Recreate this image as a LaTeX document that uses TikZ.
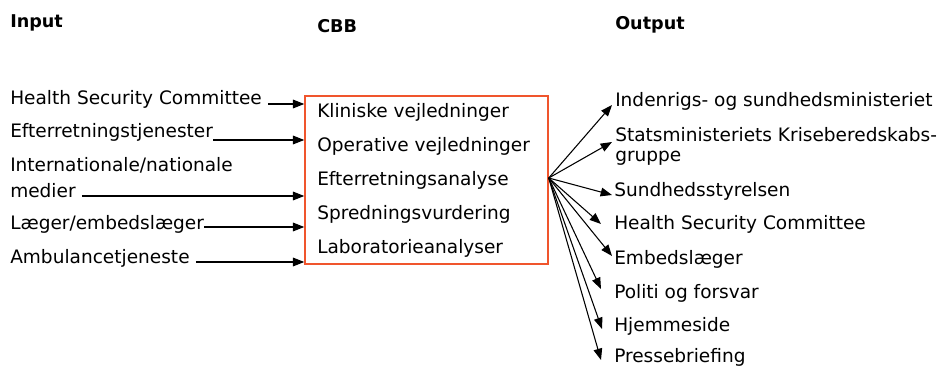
\documentclass[tikz,border=0pt]{standalone}
\usepackage{fontspec}
\setmainfont{DejaVu Sans}
\usetikzlibrary{arrows.meta}
\definecolor{boxred}{RGB}{240,85,45}
\begin{document}
\begin{tikzpicture}[x=0.75pt,y=-0.75pt,
  txt/.style={anchor=base west,inner sep=0pt,font=\fontsize{13.9}{16}\selectfont},
  hdr/.style={anchor=base west,inner sep=0pt,font=\bfseries\fontsize{13.2}{16}\selectfont},
  arr/.style={line width=0.8pt,-{Triangle[length=8.5pt,width=6.5pt]}},
  cbbbox/.style={draw=boxred,line width=1.1pt,minimum width=182.25pt,minimum height=126pt,inner sep=0pt}]
\useasboundingbox (0,0) rectangle (943,367);
% headers
\node[hdr] (hin) at (10,28) {Input};
\node[hdr] (hcbb) at (317,33) {CBB};
\node[hdr] (hout) at (615,29.5) {Output};
% box
\node[cbbbox] (box) at (426.5,180) {};
\node[txt] (b1) at (317,118) {Kliniske vejledninger};
\node[txt] (b2) at (317,152) {Operative vejledninger};
\node[txt] (b3) at (317,186) {Efterretningsanalyse};
\node[txt] (b4) at (317,219.5) {Spredningsvurdering};
\node[txt] (b5) at (317,253) {Laboratorieanalyser};
% inputs
\node[txt] (in1) at (10,105) {Health Security Committee};
\node[txt] (in2) at (10,138) {Efterretningstjenester};
\node[txt] (in3a) at (10,172) {Internationale/nationale};
\node[txt] (in3) at (10,198) {medier};
\node[txt] (in4) at (10,230) {Læger/embedslæger};
\node[txt] (in5) at (10,263) {Ambulancetjeneste};
\draw[arr] ([xshift=4.5pt,yshift=0.75pt]in1.base east) coordinate (s1) -- (s1 -| box.west);
\draw[arr] ([yshift=-1.5pt]in2.base east) coordinate (s2) -- (s2 -| box.west);
\draw[arr] ([xshift=4.5pt,yshift=1.5pt]in3.base east) coordinate (s3) -- (s3 -| box.west);
\draw[arr] ([yshift=2.25pt]in4.base east) coordinate (s4) -- (s4 -| box.west);
\draw[arr] ([xshift=4.5pt,yshift=0.75pt]in5.base east) coordinate (s5) -- (s5 -| box.west);
% outputs
\node[txt] (o1) at (615,107) {Indenrigs- og sundhedsministeriet};
\node[txt] (o2) at (615,142) {Statsministeriets Kriseberedskabs-};
\node[txt] (o2b) at (615,162) {gruppe};
\node[txt] (o3) at (614,197) {Sundhedsstyrelsen};
\node[txt] (o4) at (614,230) {Health Security Committee};
\node[txt] (o5) at (614,265) {Embedslæger};
\node[txt] (o6) at (614,298) {Politi og forsvar};
\node[txt] (o7) at (614,331) {Hjemmeside};
\node[txt] (o8) at (614,362) {Pressebriefing};
\coordinate (hub) at ([yshift=1.5pt]box.east);
\draw[arr] (hub) -- ([xshift=-2.25pt,yshift=1.5pt]o1.base west);
\draw[arr] (hub) -- ([xshift=-2.25pt]o2.base west);
\draw[arr] (hub) -- ([xshift=-1.5pt,yshift=1.5pt]o3.base west);
\draw[arr] (hub) -- ([xshift=-9.75pt,yshift=4.5pt]o4.base west);
\draw[arr] (hub) -- ([xshift=-1.5pt,yshift=6.75pt]o5.base west);
\draw[arr] (hub) -- ([xshift=-9.75pt,yshift=6.75pt]o6.base west);
\draw[arr] (hub) -- ([xshift=-9pt,yshift=1.5pt]o7.base west);
\draw[arr] (hub) -- ([xshift=-9.75pt,yshift=1.5pt]o8.base west);
\end{tikzpicture}
\end{document}
